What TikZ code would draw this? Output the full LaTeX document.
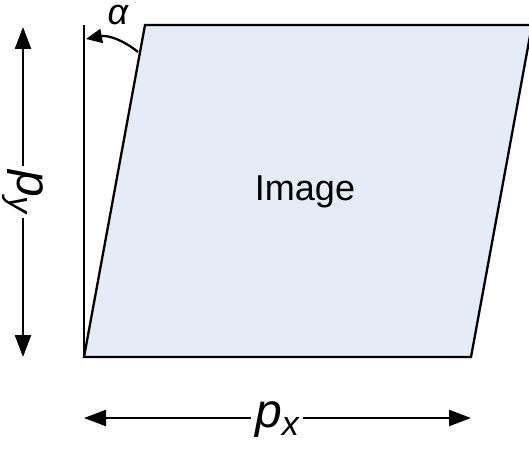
\documentclass[tikz,border=0pt]{standalone}
\usepackage{fontspec}
\setmainfont{Liberation Sans}
\usepackage{xcolor}
\definecolor{imgfill}{HTML}{E5ECF6}
\usetikzlibrary{arrows.meta, positioning}

\begin{document}
\begin{tikzpicture}[
  x=1pt, y=1pt,
  every node/.style={inner sep=0pt},
  edge/.style={line width=2.3pt, line join=miter},
  dimarr/.style={line width=2.3pt, -{Triangle[length=22pt,width=16pt]}},
  lbl/.style={font=\fontsize{48}{50}\selectfont\itshape, fill=white, inner sep=4pt}
]
  \useasboundingbox (0,0) rectangle (529,448);
  \clip (0,0) rectangle (529,448);
  % image corners
  \coordinate (bl) at (84,91);
  \coordinate (br) at (471,91);
  \coordinate (tl) at (145,423);
  \coordinate (tr) at (532,423);
  \coordinate (vt) at (84,423);
  \filldraw[edge, fill=imgfill] (bl) -- (br) -- (tr) -- (tl) -- cycle;
  \draw[edge] (bl) -- (vt);
  \node[font=\fontsize{36}{40}\selectfont] (img) at (305,256) {Image};
  % shear angle
  \coordinate (a1) at (138,396);
  \coordinate (a2) at (86,409);
  \draw[line width=2.3pt, -{Triangle[length=16pt,width=14pt]}] (a1) to[bend right=25] (a2);
  \node[font=\fontsize{36}{40}\selectfont\itshape] (alpha) at (118,433) {α};
  % dimensions
  \coordinate (py0) at (23,91);
  \coordinate (py1) at (23,421);
  \coordinate (px0) at (84,30);
  \coordinate (px1) at (471,30);
  \draw[dimarr] (23,256) -- (py1);
  \draw[dimarr] (23,256) -- (py0);
  \draw[dimarr] (277,30) -- (px0);
  \draw[dimarr] (277,30) -- (px1);
  \node[lbl, rotate=-90] (py) at (23,256) {p\raisebox{-8pt}{\fontsize{34}{34}\selectfont y}};
  \node[lbl] (px) at (277,28) {p\raisebox{-8pt}{\fontsize{34}{34}\selectfont x}};
\end{tikzpicture}
\end{document}
